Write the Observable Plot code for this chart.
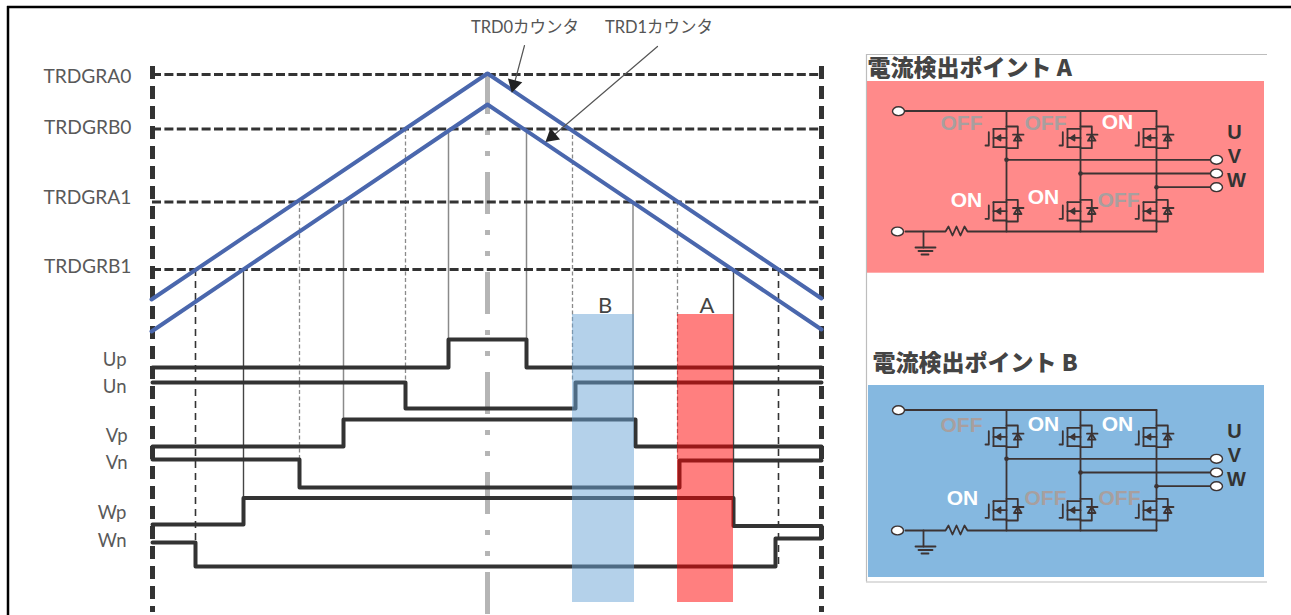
<!DOCTYPE html>
<html><head><meta charset="utf-8">
<style>html,body{margin:0;padding:0;background:#fff;overflow:hidden}svg{display:block}</style>
<script src="https://cdn.jsdelivr.net/npm/d3@7"></script>
<script src="https://cdn.jsdelivr.net/npm/@observablehq/plot@0.6"></script>
</head><body><div id="chart"></div>
<script>
// Timing chart: compare levels
const levelNames = ["TRDGRA0","TRDGRB0","TRDGRA1","TRDGRB1"];
const levelValues = [74,128.5,201.5,269];
const levelLabelY = [76,127,197,266];
// Counters (triangular waves)
const counterTimes = [151,487,821];
const trd0Values = [299,73,298];
const trd1Values = [331,104,329];
// Gate signals
const signalNames = ["Up","Un","Vp","Vn","Wp","Wn"];
const signalLabelX = [126,126,127,127,126,126];
const signalLabelY = [360,387,436,463,513,541];
const signalTimes = [
  [152,448,526,821],
  [152,405,575,821],
  [152,343,635,821],
  [152,299,679,821],
  [152,243,733,821],
  [152,195,775,821]];
const signalValues = [
  [367,339,367,367],
  [382,408,382,382],
  [446,419,446,446],
  [459,487,460,460],
  [524,497.5,525.5,525.5],
  [542,566,538,538]];
// Drop lines: [time, from, to]
const dropDarkDashed = [[195,269,566],[778,269,566]];
const dropDarkSolid  = [[243,269,524],[733,269,497]];
const dropGreyDashed = [[299,201.5,459],[405,128.5,382],[572,128.5,382],[677,201.5,460]];
const dropGreySolid  = [[343,201.5,419],[448,128.5,339],[526,128.5,367],[632.5,201.5,419]];
// Bands
const bandNames = ["B","A"];
const bandStart = [572,677];
const bandEnd = [634,733];
const bandTop = 314, bandBottom = 602;
// Circuit panels
const panelTitles = ["電流検出ポイント A","電流検出ポイント B"];
const panelFills = ["#ff8a8a","#85b8e0"];
const panelOffsets = [0,299];
const panelStates = [
  [["OFF",961,123],["OFF",1045,123],["ON",1117,122],["ON",966,200],["ON",1043,197],["OFF",1118,200]],
  [["OFF",961,126],["ON",1043,125],["ON",1117,125],["ON",962,199],["OFF",1045,199],["OFF",1119,199]]];
const columns = [1006,1080,1156];
const outputs = [["U",1234,132,159.3],["V",1234,156,173],["W",1236,180,186.7]];
const mosfet = [
  [[-21,8.3],[-17.7,8.3],[-17.7,-5]],
  [[-13,-8.3],[-13,10]],
  [[-13,-8.3],[0,-8.3]],
  [[-13,10],[0,10]],
  [[-13,0.7],[0,0.7]],
  [[-6,-2],[-10,0.7],[-6,3.4],[-6,-2]],
  [[0,-10.7],[11.3,-10.7],[11.3,11],[0,11]],
  [[6.5,-2.5],[17,-2.5]],
  [[7.5,3.5],[15,3.5],[11.3,-2.5],[7.5,3.5]]];
const resistor = [[905,231],[945,231],[948,226],[952,235],[956,226],[960,235],[964,226],[967,231],[1156,231]];
const topRail = [[905,110.5],[1156,110.5]];

// ---- build tables
const lineRows = (times, values, z) => times.map((t,i)=>({t, v:values[i], z}));
const signalRows = signalNames.flatMap((n,i)=>lineRows(signalTimes[i],signalValues[i],n));
const rows = d => d.map(([t,a,b])=>({t,a,b}));
const levelRows = levelNames.map((n,i)=>({n,v:levelValues[i],ly:levelLabelY[i]}));

const circuitRows = [], circuitDots = [], circuitTerms = [], states = [], outLabels = [];
panelOffsets.forEach((off,p)=>{
  const push = (pts,id)=>pts.forEach(([x,y])=>circuitRows.push({x,y:y+off,z:p+"-"+id,p}));
  push(topRail,"top"); push(resistor,"bottom");
  circuitTerms.push({x:898,y:110.7+off},{x:897,y:231+off});
  push([[923,231],[923,247]],"g0");
  push([[915,247],[935,247]],"g1"); push([[918,250.5],[932,250.5]],"g2"); push([[921,254],[928,254]],"g3");
  columns.forEach((c,i)=>{
    push([[c,110.5],[c,231]],"col"+i);
    const o = outputs[i];
    push([[c,o[3]],[1213,o[3]]],"out"+i);
    circuitDots.push({x:c,y:o[3]+off});
    circuitTerms.push({x:1216,y:o[3]+off});
    outLabels.push({s:o[0],x:o[1],y:o[2]+off});
    [136.7,210].forEach((cy,k)=>mosfet.forEach((seg,si)=>
      push(seg.map(([dx,dy])=>[c+dx,cy+dy]),`m${i}${k}${si}`)));
  });
  panelStates[p].forEach(([s,x,y])=>states.push({s,x,y:y+off}));
});
const labelFont = "Lato, 'Noto Sans CJK JP', sans-serif";
const boldFont = "'Liberation Sans', Arial, sans-serif";
const cjkFont = "'Noto Sans CJK JP', sans-serif";
const dark = "#333333";
// terminal symbol: a flattened circle
const terminal = {draw(c){
  const a=6, b=4.4, k=0.5523;
  c.moveTo(-a,0);
  c.bezierCurveTo(-a,-k*b,-k*a,-b,0,-b);
  c.bezierCurveTo(k*a,-b,a,-k*b,a,0);
  c.bezierCurveTo(a,k*b,k*a,b,0,b);
  c.bezierCurveTo(-k*a,b,-a,k*b,-a,0);
  c.closePath();
}};

const chart = Plot.plot({
  width:1291, height:615, margin:0,
  x:{domain:[0,1291], range:[0,1291], axis:null},
  y:{domain:[0,615], range:[0,615], axis:null},
  style:{background:"#fff", maxWidth:"none"},
  marks:[
    // frame
    Plot.ruleY([6.5],{x1:7,x2:1291,stroke:"#000",strokeWidth:2.5}),
    Plot.ruleX([7.5],{y1:6,y2:615,stroke:"#000",strokeWidth:2.5}),
    // centre line
    Plot.ruleX([487],{y1:72,y2:615,stroke:"#b5b5b5",strokeWidth:5,strokeDasharray:"42,16,5,16,5,16"}),
    // drop lines
    Plot.ruleX(rows(dropGreySolid),{x:"t",y1:"a",y2:"b",stroke:"#8a8a8a",strokeWidth:1.5}),
    Plot.ruleX(rows(dropGreyDashed),{x:"t",y1:"a",y2:"b",stroke:"#8a8a8a",strokeWidth:1.3,strokeDasharray:"4,2.5"}),
    Plot.ruleX(rows(dropDarkSolid),{x:"t",y1:"a",y2:"b",stroke:"#444",strokeWidth:1.4}),
    Plot.ruleX(rows(dropDarkDashed),{x:"t",y1:"a",y2:"b",stroke:"#333",strokeWidth:1.6,strokeDasharray:"7,5"}),
    // level lines
    Plot.ruleY(levelRows,{y:"v",x1:152,x2:821,stroke:dark,strokeWidth:3,strokeDasharray:"9,3.4"}),
    // period axes
    Plot.ruleX([152,821],{y1:66,y2:612,stroke:dark,strokeWidth:5,strokeDasharray:"13,7"}),
    // signals
    Plot.line(signalRows,{x:"t",y:"v",z:"z",curve:"step-after",stroke:dark,strokeWidth:4,strokeLinejoin:"round"}),
    // counters
    Plot.line(lineRows(counterTimes,trd0Values,"TRD0"),{x:"t",y:"v",stroke:"#4a67ad",strokeWidth:4}),
    Plot.line(lineRows(counterTimes,trd1Values,"TRD1"),{x:"t",y:"v",stroke:"#4a67ad",strokeWidth:4}),
    // callouts
    Plot.line([{x:524,y:45},{x:512,y:90}],{x:"x",y:"y",stroke:"#555",strokeWidth:1.2}),
    Plot.line([{x:657,y:46},{x:547,y:140}],{x:"x",y:"y",stroke:"#555",strokeWidth:1.2}),
    Plot.dot([{x:513.5,y:84,r:195},{x:551.5,y:136,r:230}],{x:"x",y:"y",rotate:"r",symbol:"triangle",r:5.5,fill:"#222",stroke:"none"}),
    Plot.text(["TRD0カウンタ","TRD1カウンタ"],{x:[524.5,658.5],y:[27,27],text:d=>d,fontFamily:labelFont,fontSize:16.5,fill:"#555"}),
    // bands
    Plot.rect(bandNames,{x1:(d,i)=>bandStart[i],x2:(d,i)=>bandEnd[i],y1:bandTop,y2:bandBottom,fill:d=>d==="B"?"#6aa3d5":"#ff0000",fillOpacity:0.5}),
    Plot.text(bandNames,{x:(d,i)=>(bandStart[i]+bandEnd[i])/2+1.5,y:305,text:d=>d,fontFamily:labelFont,fontSize:22,fill:"#444"}),
    // labels
    Plot.text(levelRows,{x:131,y:"ly",text:"n",textAnchor:"end",fontFamily:labelFont,fontSize:19.2,fill:"#595959"}),
    Plot.text(signalNames,{x:(d,i)=>signalLabelX[i],y:(d,i)=>signalLabelY[i],text:d=>d,textAnchor:"end",fontFamily:labelFont,fontSize:18.5,fill:"#595959"}),
    // circuit panels
    Plot.ruleY([54,581.5],{x1:866,x2:1267,stroke:"#bdbdbd",strokeWidth:1.2}),
    Plot.ruleX([866],{y1:54,y2:581.5,stroke:"#bdbdbd",strokeWidth:1.2}),
    Plot.rect(panelFills,{x1:(d,i)=>867+i,x2:1264,y1:(d,i)=>81+i*304,y2:(d,i)=>272.7+i*304.3,fill:d=>d}),
    Plot.text(panelTitles,{x:(d,i)=>867+i*5,y:(d,i)=>68+i*295,text:d=>d,textAnchor:"start",fontFamily:cjkFont,fontWeight:900,fontSize:23,fill:"#444"}),
    Plot.line(circuitRows,{x:"x",y:"y",z:"z",stroke:"#3c3333",strokeWidth:1.8,strokeLinejoin:"round"}),
    Plot.dot(circuitDots,{x:"x",y:"y",r:2.3,fill:"#3c3333"}),
    Plot.dot(circuitTerms,{x:"x",y:"y",symbol:terminal,r:5,fill:"#fff",stroke:"#3c3333",strokeWidth:1.4}),
    Plot.text(states,{x:"x",y:"y",text:"s",fontFamily:boldFont,fontWeight:700,fontSize:21,fill:d=>d.s==="ON"?"#ffffff":"#a89f9f"}),
    Plot.text(outLabels,{x:"x",y:"y",text:"s",fontFamily:boldFont,fontWeight:700,fontSize:20,fill:"#333"})
  ]
});
document.getElementById("chart").appendChild(chart);
</script></body></html>
